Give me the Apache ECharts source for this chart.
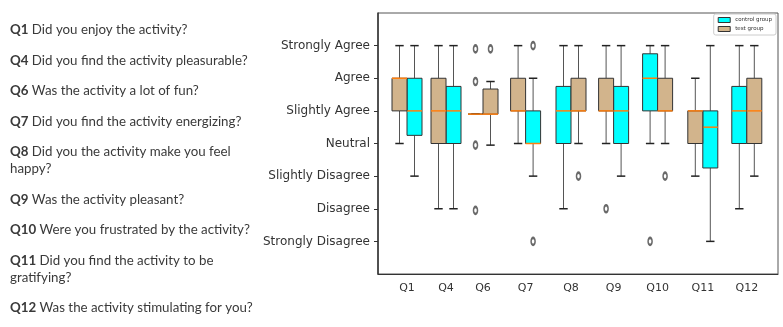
<!DOCTYPE html>
<html><head><meta charset="utf-8">
<script src="https://cdn.jsdelivr.net/npm/echarts@6/dist/echarts.min.js"></script>
<style>html,body{margin:0;padding:0;background:#fff}#c{width:783px;height:327px}</style>
</head><body><div id="c"></div>
<script>
// ---- data ----
const questions = ['Q1','Q4','Q6','Q7','Q8','Q9','Q10','Q11','Q12'];
const questionTexts = [
  ['Did you enjoy the activity?'],
  ['Did you find the activity pleasurable?'],
  ['Was the activity a lot of fun?'],
  ['Did you find the activity energizing?'],
  ['Did you the activity make you feel', 'happy?'],
  ['Was the activity pleasant?'],
  ['Were you frustrated by the activity?'],
  ['Did you find the activity to be', 'gratifying?'],
  ['Was the activity stimulating for you?']
];
// y values 1..7
const likertLabels = ['Strongly Disagree','Disagree','Slightly Disagree','Neutral','Slightly Agree','Agree','Strongly Agree'];
// x position of each question on a 0..100 axis
const questionPositions = [7.25, 17, 26.25, 36.9, 48.25, 58.9, 69.9, 81.2, 92.2];
const controlOnLeft = [false, false, true, false, true, false, true, false, true];
// [min, Q1, median, Q3, max]
const controlStats = [
  [3, 4.25, 5, 6, 7],
  [2, 4, 5, 5.75, 7],
  [4.9, 4.9, 4.9, 4.9, 4.9],
  [3, 4, 4, 5, 6],
  [2, 4, 5, 5.75, 7],
  [3, 4, 5, 5.75, 7],
  [4, 5, 6, 6.75, 7],
  [1, 3.25, 4.5, 5, 7],
  [2, 4, 5, 5.75, 7]
];
const testStats = [
  [4, 5, 6, 6, 7],
  [2, 4, 5, 6, 7],
  [3.95, 4.9, 4.9, 5.67, 5.9],
  [4, 5, 5, 6, 7],
  [4, 5, 5, 6, 7],
  [4, 5, 5, 6, 7],
  [4, 5, 5, 6, 7],
  [3, 4, 5, 5, 6],
  [3, 4, 5, 6, 7]
];
const controlOutliers = [[], [], [6.9, 5.9, 3.95, 1.95], [7, 1], [], [], [1], [], []];
const testOutliers = [[], [], [6.9], [], [3], [2], [3], [], []];

// ---- build ----
const BOX_W = 3.75;
const CONTROL_COLOR = '#00ffff';
const TEST_COLOR = '#d2b48c';
const MEDIAN_COLOR = '#ff7f0e';

function boxX(i, isControl) {
  const left = controlOnLeft[i] === isControl;
  return questionPositions[i] + (left ? -1 : 1) * BOX_W / 2;
}
function boxData(stats, isControl) {
  return stats.map((s, i) => [boxX(i, isControl)].concat(s));
}
function outlierData(outs, isControl) {
  const res = [];
  outs.forEach((arr, i) => arr.forEach(v => res.push([boxX(i, isControl), v])));
  return res;
}
function renderBox(fill) {
  return function (params, api) {
    const x = api.value(0);
    const w = api.size([BOX_W, 0])[0];
    const p = [1, 2, 3, 4, 5].map(d => api.coord([x, api.value(d)]));
    const cx = p[0][0];
    const yMin = p[0][1], yQ1 = p[1][1], yMed = p[2][1], yQ3 = p[3][1], yMax = p[4][1];
    const cw = w * 0.28;
    return {
      type: 'group',
      children: [
        { type: 'line', shape: { x1: cx, y1: yQ1, x2: cx, y2: yMin }, style: { stroke: '#555', lineWidth: 1 } },
        { type: 'line', shape: { x1: cx, y1: yQ3, x2: cx, y2: yMax }, style: { stroke: '#555', lineWidth: 1 } },
        { type: 'line', shape: { x1: cx - cw, y1: yMin, x2: cx + cw, y2: yMin }, style: { stroke: '#222', lineWidth: 1.5 } },
        { type: 'line', shape: { x1: cx - cw, y1: yMax, x2: cx + cw, y2: yMax }, style: { stroke: '#222', lineWidth: 1.5 } },
        { type: 'rect', shape: { x: cx - w / 2, y: yQ3, width: w, height: yQ1 - yQ3 }, style: { fill: fill, stroke: '#333', lineWidth: 1 } },
        { type: 'line', shape: { x1: cx - w / 2, y1: yMed, x2: cx + w / 2, y2: yMed }, style: { stroke: MEDIAN_COLOR, lineWidth: 1.5 } }
      ]
    };
  };
}

// left text panel
const graphics = [];
let yy = 30;
questions.forEach((q, i) => {
  const lines = questionTexts[i];
  const txt = '{b|' + q + '} ' + lines.join('\n');
  graphics.push({
    type: 'text', x: 10, y: yy - 8.5,
    style: {
      text: txt, fill: '#3a3a3a', font: '13.3px Lato', lineHeight: 17, verticalAlign: 'top',
      rich: { b: { fontWeight: 'bold', fontFamily: 'Lato', fontSize: 13.3, lineHeight: 17, fill: '#3a3a3a' } }
    }
  });
  yy += 17 * (lines.length - 1) + 30.5;
});

const yTicks = likertLabels.map((_, i) => i + 1);

const chart = echarts.init(document.getElementById('c'), null, { renderer: 'canvas' });
chart.setOption({
  backgroundColor: '#fff',
  animation: false,
  graphic: graphics,
  grid: { left: 378, right: 5, top: 13, bottom: 53, show: true, borderColor: '#555', borderWidth: 1 },
  legend: {
    data: ['control group', 'test group'], orient: 'vertical', right: 7, top: 14,
    icon: 'rect', itemWidth: 12, itemHeight: 5, itemGap: 3, itemTextGap: 3,
    textStyle: { fontSize: 5.5, color: '#333', fontFamily: 'DejaVu Sans' },
    borderColor: '#ccc', borderWidth: 1, borderRadius: 2, padding: [3, 4, 3, 4], backgroundColor: '#fff',
    itemStyle: { borderColor: '#333', borderWidth: 1 }
  },
  xAxis: {
    type: 'value', min: 0, max: 100, splitLine: { show: false },
    axisLine: { show: true, lineStyle: { color: '#333', width: 1 } },
    axisTick: { show: false },
    axisLabel: {
      customValues: questionPositions,
      formatter: v => { const k = questionPositions.indexOf(v); return k >= 0 ? questions[k] : ''; },
      fontSize: 11, color: '#333', margin: 9, fontFamily: 'DejaVu Sans'
    }
  },
  yAxis: {
    type: 'value', min: 0, max: 8, interval: 1, splitLine: { show: false },
    axisLine: { show: true, lineStyle: { color: '#333', width: 1.5 } },
    axisTick: { show: true, length: 4, customValues: yTicks, lineStyle: { color: '#333' } },
    axisLabel: {
      customValues: yTicks,
      formatter: v => likertLabels[v - 1] || '',
      fontSize: 12, color: '#333', margin: 8, fontFamily: 'DejaVu Sans'
    }
  },
  series: [
    {
      name: 'control group', type: 'custom', renderItem: renderBox(CONTROL_COLOR),
      itemStyle: { color: CONTROL_COLOR, borderColor: '#333', borderWidth: 1 },
      encode: { x: 0, y: [1, 2, 3, 4, 5] }, data: boxData(controlStats, true), z: 2
    },
    {
      name: 'test group', type: 'custom', renderItem: renderBox(TEST_COLOR),
      itemStyle: { color: TEST_COLOR, borderColor: '#333', borderWidth: 1 },
      encode: { x: 0, y: [1, 2, 3, 4, 5] }, data: boxData(testStats, false), z: 2
    },
    {
      name: 'control outliers', type: 'scatter', symbol: 'emptyCircle', symbolSize: [4, 7],
      itemStyle: { color: '#444', borderWidth: 1 }, data: outlierData(controlOutliers, true), z: 3
    },
    {
      name: 'test outliers', type: 'scatter', symbol: 'emptyCircle', symbolSize: [4, 7],
      itemStyle: { color: '#444', borderWidth: 1 }, data: outlierData(testOutliers, false), z: 3
    }
  ]
});
</script>
</body></html>
